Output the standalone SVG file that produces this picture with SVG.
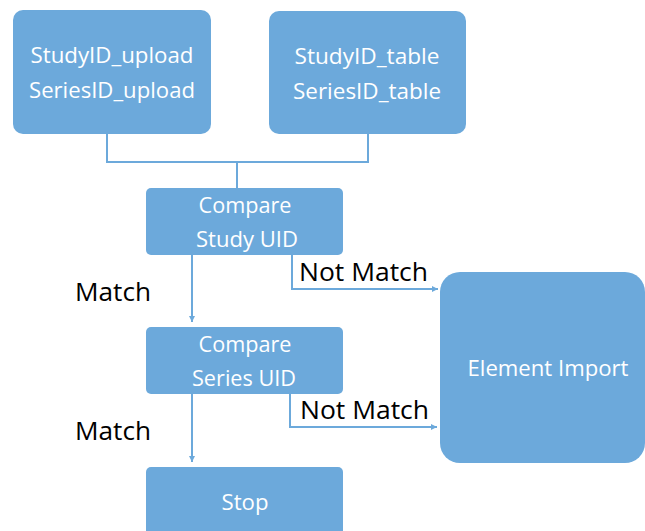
<svg xmlns="http://www.w3.org/2000/svg" width="645" height="531" viewBox="0 0 645 531">
<defs>
<style>
.box{fill:#6CA9DB;}
.t{font-family:"Open Sans","Liberation Sans",sans-serif;font-size:21px;fill:#ffffff;text-anchor:middle;}
.lbl{font-family:"Open Sans","Liberation Sans",sans-serif;font-size:25px;fill:#000000;}
.ln{fill:none;stroke:#6CA9DB;stroke-width:2;}
</style>
<marker id="ah" viewBox="0 0 10 10" refX="10" refY="5" markerWidth="6" markerHeight="6" markerUnits="userSpaceOnUse" orient="auto">
<path d="M0,0 L10,5 L0,10 z" fill="#6CA9DB"/>
</marker>
</defs>
<rect width="645" height="531" fill="#ffffff"/>
<g id="connectors">
<path class="ln" d="M107,134 V162 H368 V134"/>
<path class="ln" d="M237,162 V188"/>
<path class="ln" d="M192,255 V322" marker-end="url(#ah)"/>
<path class="ln" d="M292,255 V289 H438" marker-end="url(#ah)"/>
<path class="ln" d="M192,394 V462" marker-end="url(#ah)"/>
<path class="ln" d="M290,394 V427 H437" marker-end="url(#ah)"/>
</g>
<g id="labels">
<text class="lbl" x="299" y="281" textLength="129" lengthAdjust="spacingAndGlyphs">Not Match</text>
<text class="lbl" x="75" y="301" textLength="76" lengthAdjust="spacingAndGlyphs">Match</text>
<text class="lbl" x="300" y="419" textLength="129" lengthAdjust="spacingAndGlyphs">Not Match</text>
<text class="lbl" x="75" y="440" textLength="76" lengthAdjust="spacingAndGlyphs">Match</text>
</g>
<g id="upload">
<rect class="box" x="13" y="10" width="198" height="124" rx="10"/>
<text class="t" x="112" y="63" textLength="163" lengthAdjust="spacingAndGlyphs">StudyID_upload</text>
<text class="t" x="112" y="98" textLength="166" lengthAdjust="spacingAndGlyphs">SeriesID_upload</text>
</g>
<g id="table">
<rect class="box" x="269" y="11" width="197" height="123" rx="10"/>
<text class="t" x="367" y="64" textLength="145" lengthAdjust="spacingAndGlyphs">StudyID_table</text>
<text class="t" x="367" y="99" textLength="148" lengthAdjust="spacingAndGlyphs">SeriesID_table</text>
</g>
<g id="compare-study">
<rect class="box" x="146" y="188" width="197" height="67" rx="5"/>
<text class="t" x="245" y="213" textLength="93" lengthAdjust="spacingAndGlyphs">Compare</text>
<text class="t" x="247" y="247" textLength="102" lengthAdjust="spacingAndGlyphs">Study UID</text>
</g>
<g id="compare-series">
<rect class="box" x="146" y="327" width="197" height="67" rx="5"/>
<text class="t" x="245" y="352" textLength="93" lengthAdjust="spacingAndGlyphs">Compare</text>
<text class="t" x="244" y="386" textLength="104" lengthAdjust="spacingAndGlyphs">Series UID</text>
</g>
<g id="element-import">
<rect class="box" x="440" y="272" width="205" height="191" rx="20"/>
<text class="t" x="548" y="376" textLength="161" lengthAdjust="spacingAndGlyphs">Element Import</text>
</g>
<g id="stop">
<rect class="box" x="146" y="467" width="197" height="80" rx="5"/>
<text class="t" x="245" y="510" textLength="47" lengthAdjust="spacingAndGlyphs">Stop</text>
</g>
</svg>
